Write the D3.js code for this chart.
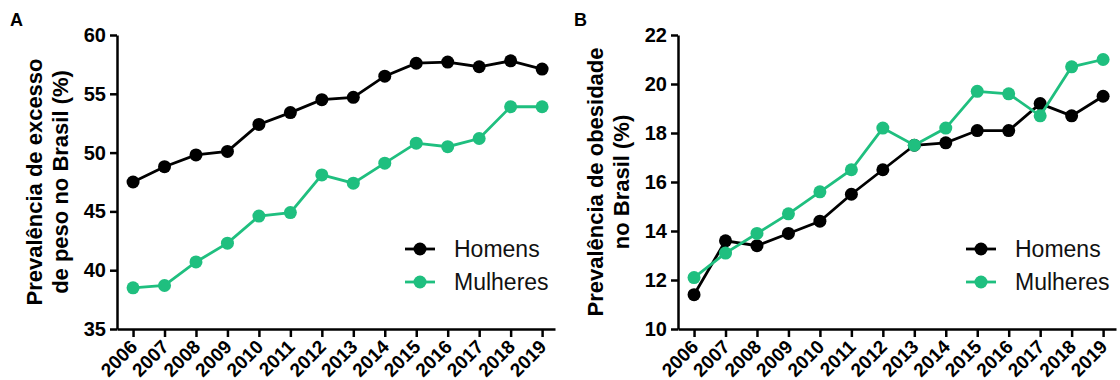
<html>

<head>
    <script src="https://d3js.org/d3.v7.min.js"></script>
    <style>
        body {
            margin: 0;
            background: #fff;
        }

        text {
            font-family: "Liberation Sans", Arial, sans-serif;
        }

        .axis path,
        .axis line {
            stroke: #000;
            stroke-width: 2.5px;
        }

        .axis text {
            font-size: 20px;
            font-weight: bold;
            fill: #000;
        }

        .x.axis text {
            font-size: 19px;
        }
    </style>
</head>

<body>
    <svg height="380" width="1120" id="chart"></svg>
    <script>
        // data
        const years = [2006, 2007, 2008, 2009, 2010, 2011, 2012, 2013, 2014, 2015, 2016, 2017, 2018, 2019];

        const excessoHomens = [47.5, 48.8, 49.8, 50.1, 52.4, 53.4, 54.5, 54.7, 56.5, 57.6, 57.7, 57.3, 57.8, 57.1];
        const excessoMulheres = [38.5, 38.7, 40.7, 42.3, 44.6, 44.9, 48.1, 47.4, 49.1, 50.8, 50.5, 51.2, 53.9, 53.9];

        const obesidadeHomens = [11.4, 13.6, 13.4, 13.9, 14.4, 15.5, 16.5, 17.5, 17.6, 18.1, 18.1, 19.2, 18.7, 19.5];
        const obesidadeMulheres = [12.1, 13.1, 13.9, 14.7, 15.6, 16.5, 18.2, 17.5, 18.2, 19.7, 19.6, 18.7, 20.7, 21.0];

        const seriesNames = ["Homens", "Mulheres"];
        const colors = ["#000000", "#1fbf7f"];

        const ticksA = [35, 40, 45, 50, 55, 60];
        const ticksB = [10, 12, 14, 16, 18, 20, 22];

        const svg = d3.select("#chart");

        function drawPanel(opts) {
            const m = opts.margins;
            const g = svg.append("g");

            const xScale = d3.scaleLinear()
                .domain([2005.49, 2019.41])
                .range([m.left, m.right]);
            const yScale = d3.scaleLinear()
                .domain(d3.extent(opts.ticks))
                .range([m.bottom, m.top]);

            // y axis
            g.append("g")
                .attr("class", "y axis")
                .attr("transform", `translate(${m.left},0)`)
                .call(d3.axisLeft(yScale).tickValues(opts.ticks).tickSize(7).tickSizeOuter(0).tickPadding(4));

            // x axis
            let xAxis = g.append("g")
                .attr("class", "x axis")
                .attr("transform", `translate(0,${m.bottom})`)
                .call(d3.axisBottom(xScale).tickValues(years).tickFormat(d3.format("d")).tickSize(8).tickSizeOuter(0));

            xAxis.selectAll("text")
                .attr("x", 0)
                .attr("y", 0)
                .attr("dy", 0)
                .attr("text-anchor", "end")
                .attr("transform", "translate(5,19) rotate(-45)");

            // y label, two lines
            let label = g.append("text")
                .attr("transform", `translate(${opts.labelX},${(m.top + m.bottom) / 2}) rotate(-90)`)
                .attr("text-anchor", "middle")
                .style("font-size", "22px")
                .style("font-weight", "bold");
            label.append("tspan").attr("x", 0).attr("y", 0).text(opts.label[0]);
            label.append("tspan").attr("x", 0).attr("y", 26).text(opts.label[1]);

            // panel letter
            g.append("text")
                .attr("x", opts.letterX)
                .attr("y", 26)
                .style("font-size", "18px")
                .style("font-weight", "bold")
                .text(opts.letter);

            const line = d3.line()
                .x((d, i) => xScale(years[i]))
                .y(d => yScale(d));

            opts.series.forEach((values, k) => {
                g.append("path")
                    .datum(values)
                    .attr("fill", "none")
                    .attr("stroke", colors[k])
                    .attr("stroke-width", 2.8)
                    .attr("d", line);

                g.selectAll(".dot" + k)
                    .data(values)
                    .join("circle")
                    .attr("class", "dot" + k)
                    .attr("cx", (d, i) => xScale(years[i]))
                    .attr("cy", d => yScale(d))
                    .attr("r", 6.5)
                    .attr("fill", colors[k]);
            });

            // legend
            seriesNames.forEach((name, k) => {
                let ly = opts.legendY + k * 33;
                g.append("line")
                    .attr("x1", opts.legendX)
                    .attr("x2", opts.legendX + 30)
                    .attr("y1", ly)
                    .attr("y2", ly)
                    .attr("stroke", colors[k])
                    .attr("stroke-width", 2.8);
                g.append("circle")
                    .attr("cx", opts.legendX + 15)
                    .attr("cy", ly)
                    .attr("r", 6.5)
                    .attr("fill", colors[k]);
                g.append("text")
                    .attr("x", opts.legendX + 49)
                    .attr("y", ly)
                    .attr("dy", "0.35em")
                    .style("font-size", "23px")
                    .style("fill", "#111")
                    .text(name);
            });
        }

        drawPanel({
            margins: { left: 117, right: 555, top: 35, bottom: 329 },
            ticks: ticksA,
            series: [excessoHomens, excessoMulheres],
            label: ["Prevalência de excesso", "de peso no Brasil (%)"],
            labelX: 42,
            letter: "A",
            letterX: 10,
            legendX: 405,
            legendY: 249
        });

        drawPanel({
            margins: { left: 678, right: 1116, top: 35, bottom: 329 },
            ticks: ticksB,
            series: [obesidadeHomens, obesidadeMulheres],
            label: ["Prevalência de obesidade", "no Brasil (%)"],
            labelX: 603,
            letter: "B",
            letterX: 574,
            legendX: 966,
            legendY: 249
        });
    </script>
</body>

</html>
